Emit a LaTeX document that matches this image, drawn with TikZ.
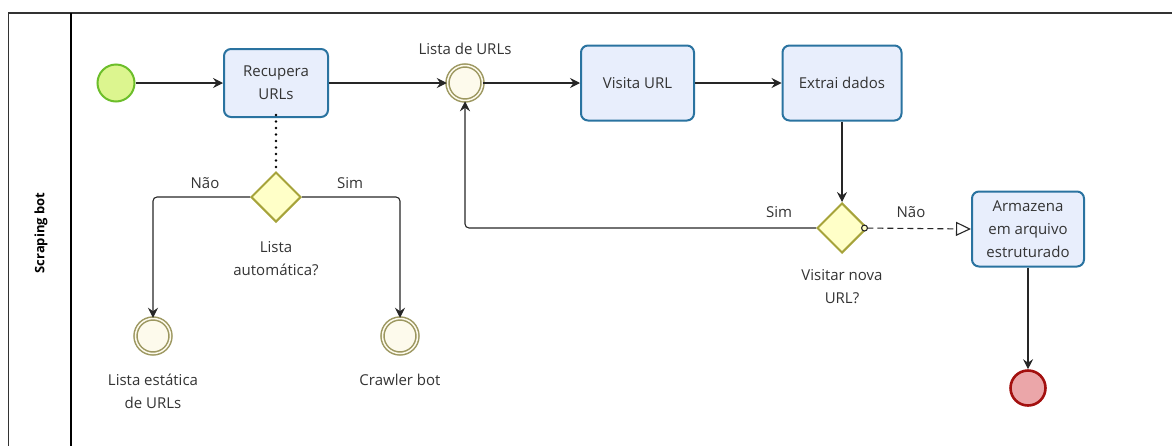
\documentclass[tikz,border=0pt]{standalone}
\usepackage{fontspec}
\setmainfont{Open Sans}
\usetikzlibrary{arrows.meta,shapes.geometric,positioning}
\definecolor{taskfill}{HTML}{E8EEFC}
\definecolor{taskdraw}{HTML}{2A73A0}
\definecolor{startfill}{HTML}{DCF58F}
\definecolor{startdraw}{HTML}{6CBE2A}
\definecolor{evfill}{HTML}{FDFAEC}
\definecolor{evdraw}{HTML}{9C9760}
\definecolor{gwfill}{HTML}{FFFFC8}
\definecolor{gwdraw}{HTML}{A6A33A}
\definecolor{endfill}{HTML}{EBA6A9}
\definecolor{enddraw}{HTML}{A3100F}
\definecolor{txt}{HTML}{333333}
\tikzset{
  every node/.style={font=\fontsize{15}{23}\selectfont, text=txt},
  task/.style={draw=taskdraw, fill=taskfill, line width=2pt, rounded corners=7pt, align=center, inner sep=0pt},
  startev/.style={circle, draw=startdraw, fill=startfill, line width=2pt, minimum size=37pt, inner sep=0pt},
  midev/.style={circle, draw=evdraw, fill=evfill, line width=1.5pt, double=evfill, double distance=1.5pt, minimum size=35pt, inner sep=0pt},
  endev/.style={circle, draw=enddraw, fill=endfill, line width=2.6pt, minimum size=35pt, inner sep=0pt},
  gw/.style={diamond, draw=gwdraw, fill=gwfill, line width=2pt, minimum size=50pt, inner sep=0pt},
  flow/.style={draw=black!85, line width=1.1pt, -{Stealth[length=10pt,width=10pt,inset=3.5pt]}},
  lbl/.style={align=center, inner sep=0pt},
}
\begin{document}
\begin{tikzpicture}[x=1pt,y=-1pt]
\useasboundingbox (0,0) rectangle (1172,445);
% pool frame
\draw[line width=1.3pt, draw=black!80] (8.5,450) -- (8.5,13) -- (1172,13);
\draw[line width=1.3pt, draw=black] (71,13) -- (71,450);
\node[rotate=90, font=\fontsize{13}{15}\selectfont\bfseries, text=black] (lane) at (41,233) {Scraping bot};

% nodes
\node[startev] (start) at (116,83) {};
\node[task, minimum width=104pt, minimum height=68pt] (rec) at (276,83) {Recupera\\URLs};
\node[midev] (lista) at (465,83) {};
\node[lbl, anchor=base] (listalbl) at (465,54) {Lista de URLs};
\node[task, minimum width=113pt, minimum height=75pt] (visita) at (637.5,83) {Visita URL};
\node[task, minimum width=119pt, minimum height=75pt] (extrai) at (842,83) {Extrai dados};

\node[gw] (gw1) at (276,197) {};
\node[lbl, anchor=base] (gw1lbl) at (276,275) {Lista\\automática?};
\node[midev] (estat) at (153,336) {};
\node[lbl, anchor=base] (estatlbl) at (153,408) {Lista estática\\de URLs};
\node[midev] (crawl) at (400,336) {};
\node[lbl, anchor=base] (crawllbl) at (400,385) {Crawler bot};

\node[gw] (gw2) at (842,228) {};
\node[lbl, anchor=base] (gw2lbl) at (842,303) {Visitar nova\\URL?};
\node[task, minimum width=112pt, minimum height=75pt] (arm) at (1028,229) {Armazena\\em arquivo\\estruturado};
\node[endev] (fim) at (1028,388) {};

% edge labels
\node[lbl, anchor=base] (nao1) at (205,188) {Não};
\node[lbl, anchor=base] (sim1) at (350,188) {Sim};
\node[lbl, anchor=base] (sim2) at (779,217) {Sim};
\node[lbl, anchor=base] (nao2) at (911,217) {Não};

% flows
\draw[flow] (start) -- (rec);
\draw[flow] (rec) -- (lista);
\draw[flow] (lista) -- (visita);
\draw[flow] (visita) -- (extrai);
\draw[flow] (extrai) -- (gw2);
\draw[black, line width=2.6pt, line cap=round, dash pattern=on 0pt off 6.5pt] ([yshift=3pt]rec.south) -- ([yshift=-2pt]gw1.north);
\draw[flow, rounded corners=4pt] (gw1.west) -| (estat.north);
\draw[flow, rounded corners=4pt] (gw1.east) -| (crawl.north);
\draw[flow, rounded corners=4pt] (gw2.west) -| (lista.south);
\draw[flow] (arm) -- (fim);
\draw[line width=1.1pt, black!85, dash pattern=on 6pt off 4pt, {Circle[open,length=7pt,width=7pt,fill=gwfill]}-{Triangle[open,length=15pt,width=14pt,fill=white]}] ([xshift=-7pt]gw2.east) -- (arm.west);
\end{tikzpicture}
\end{document}
